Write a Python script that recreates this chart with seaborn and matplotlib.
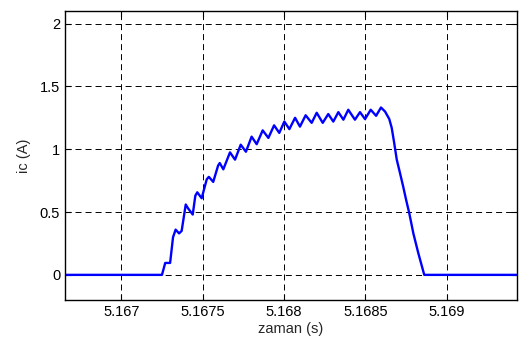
import matplotlib
matplotlib.use("Agg")
import matplotlib.pyplot as plt
import seaborn as sns
import pandas as pd

# Capacitor current waveform samples: time (s) and current (A)
zaman = [5.16660, 5.16725, 5.16727, 5.16730, 5.167318, 5.167334, 5.167355,
         5.167371, 5.167396, 5.167410, 5.167439, 5.167455, 5.167467, 5.167494,
         5.167525, 5.167538, 5.167565, 5.167595, 5.167605, 5.167627,
         5.167668, 5.167699, 5.167734, 5.167766, 5.167801, 5.167832, 5.167869,
         5.167904, 5.167939, 5.167971, 5.168002, 5.168033, 5.168068, 5.168098,
         5.168133, 5.168170, 5.168201, 5.168238, 5.168272, 5.168303, 5.168334,
         5.168365, 5.168395, 5.168436, 5.168467, 5.168498, 5.168533, 5.168566,
         5.168596, 5.168621, 5.168647, 5.168662, 5.168676, 5.168693, 5.168713,
         5.168733, 5.168750, 5.168770, 5.168795, 5.168825, 5.168862, 5.16950]
ic = [0.0, 0.0, 0.095, 0.095, 0.30, 0.36, 0.33,
      0.35, 0.56, 0.53, 0.48, 0.63, 0.657, 0.61,
      0.76, 0.78, 0.74, 0.87, 0.89, 0.84,
      0.975, 0.917, 1.036, 0.98, 1.10, 1.04, 1.15,
      1.09, 1.19, 1.13, 1.22, 1.16, 1.25, 1.18,
      1.27, 1.21, 1.29, 1.21, 1.28, 1.22, 1.295,
      1.235, 1.314, 1.235, 1.295, 1.24, 1.314, 1.266,
      1.332, 1.30, 1.24, 1.17, 1.06, 0.917, 0.81,
      0.70, 0.60, 0.49, 0.33, 0.175, 0.0, 0.0]

x_ticks = [5.167, 5.1675, 5.168, 5.1685, 5.169]
x_tick_labels = ["5.167", "5.1675", "5.168", "5.1685", "5.169"]
y_ticks = [0, 0.5, 1, 1.5, 2]
y_tick_labels = ["0", "0.5", "1", "1.5", "2"]

sns.set_style("white")
plt.rcParams["font.family"] = ["Liberation Sans", "DejaVu Sans"]

df = pd.DataFrame({"zaman": zaman, "ic": ic})

fig = plt.figure(figsize=(5.24, 3.42), dpi=100)
ax = fig.add_axes([65 / 524, 42 / 342, 452 / 524, 289 / 342])

sns.lineplot(data=df, x="zaman", y="ic", ax=ax, color="#0000ff",
             linewidth=1.7, estimator=None, sort=False)
for ln in ax.get_lines():
    ln.set_solid_joinstyle("round")
    ln.set_solid_capstyle("round")

ax.set_xlim(5.166654, 5.169432)
ax.set_ylim(-0.2, 2.1)
ax.set_xticks(x_ticks)
ax.set_xticklabels(x_tick_labels)
ax.set_yticks(y_ticks)
ax.set_yticklabels(y_tick_labels)

ax.grid(True, color="black", linestyle=(0, (6.2, 4.1)), linewidth=0.7)
ax.set_axisbelow(True)
for s in ax.spines.values():
    s.set_color("black")
    s.set_linewidth(1.0)

ax.tick_params(axis="both", direction="in", length=4, width=0.8,
               labelsize=10.5, colors="black", top=True, right=True,
               bottom=True, left=True, pad=3.5)

ax.set_xlabel("zaman (s)", fontsize=10.5, labelpad=2)
ax.set_ylabel("ic (A)", fontsize=10.5, labelpad=6)

fig.savefig("out.png", dpi=100)
